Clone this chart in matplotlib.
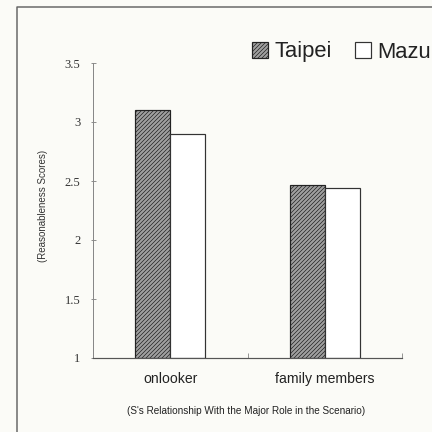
import matplotlib
matplotlib.use("Agg")
import matplotlib.pyplot as plt
import numpy as np
from matplotlib.lines import Line2D

categories = ["onlooker", "family members"]
taipei = [3.10, 2.47]
mazu = [2.90, 2.44]
yticks = [1, 1.5, 2, 2.5, 3, 3.5]
ytick_labels = ["1", "1.5", "2", "2.5", "3", "3.5"]

plt.rcParams['hatch.linewidth'] = 0.7
bg = '#fbfbf7'
fig = plt.figure(figsize=(6, 6), dpi=72, facecolor=bg)
ax = fig.add_axes([93/432, 1-358/432, (402-93)/432, (358-63)/432])
ax.set_facecolor(bg)

x = np.arange(len(categories))
w = 0.226
b1 = ax.bar(x - w/2, [v - 1 for v in taipei], w, bottom=1, color='#a0a0a0',
            edgecolor='#222222', hatch='//////', linewidth=1.2, label='Taipei')
b2 = ax.bar(x + w/2, [v - 1 for v in mazu], w, bottom=1, color='white',
            edgecolor='#333333', linewidth=1.2, label='Mazu')

ax.set_xlim(-0.5, 1.5)
ax.set_ylim(1, 3.5)
ax.set_yticks(yticks)
ax.set_yticklabels(ytick_labels, family='Liberation Serif', fontsize=12.5, color='#333333')
ax.set_xticks(x)
ax.set_xticklabels(categories, family='Liberation Sans', fontsize=14, color='#222222')
ax.set_xticks([-0.5, 0.5, 1.5], minor=True)
ax.tick_params(axis='x', which='major', length=0, pad=14)
ax.tick_params(axis='x', which='minor', direction='in', length=5, color='#555555')
ax.tick_params(axis='y', direction='inout', length=5, color='#777777', pad=10)
for s in ['top', 'right']:
    ax.spines[s].set_visible(False)
ax.spines['left'].set_color('#888888')
ax.spines['bottom'].set_color('#555555')
ax.spines['left'].set_linewidth(1.0)
ax.spines['bottom'].set_linewidth(1.2)

fig.text(43/432, 1-206/432, "(Reasonableness Scores)", rotation=90, ha='center', va='center',
         family='Liberation Sans', fontsize=9.7, color='#333333')
fig.text(246/432, 1-411/432, "(S's Relationship With the Major Role in the Scenario)",
         ha='center', va='center', family='Liberation Sans', fontsize=10, color='#222222')

leg = ax.legend(loc='center left', bbox_to_anchor=(241/432, 1-52/432), bbox_transform=fig.transFigure,
                ncol=2, frameon=False, borderpad=0, handlelength=0.72, handleheight=0.72,
                handletextpad=0.3, columnspacing=1.05, prop={'family': 'Liberation Sans', 'size': 22})
for t in leg.get_texts():
    t.set_color('#222222')

fig.add_artist(Line2D([17/432, 17/432, 1.0], [0.0, 1-7/432, 1-7/432], transform=fig.transFigure,
                      color='#666666', lw=1.5))

fig.savefig("out.png", dpi=72, facecolor=bg)
